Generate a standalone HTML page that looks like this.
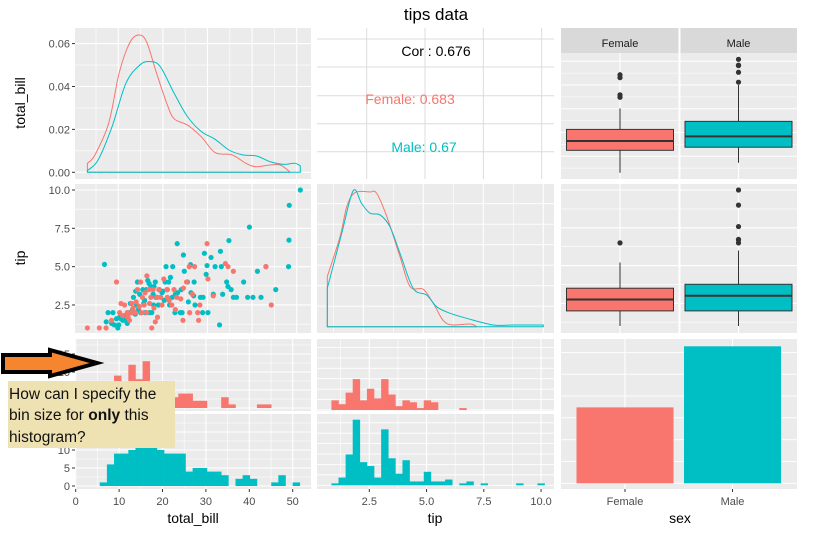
<!DOCTYPE html>
<html><head><meta charset="utf-8"><style>
html,body{margin:0;padding:0;background:#fff;}
svg{display:block;font-family:"Liberation Sans",sans-serif;}
</style></head><body>
<svg id="chart" width="826" height="534" viewBox="0 0 826 534" xmlns="http://www.w3.org/2000/svg">
<text x="436" y="20" text-anchor="middle" font-size="17" fill="#000">tips data</text>
</svg>
<script>
// ---------- data ----------
const sexes = ['Female','Male'];
const sexCounts = [87,157];
const tbEdge0 = 2.25, tbBin = 1.646;
const tbHistFemale = [1,0,1,3,9,6,12,8,13,7,5,4,3,4,4,2,2,0,0,3,1,0,0,0,1,1,0,0,0,0];
const tbHistMale = [0,0,1,6,9,9,10,11,11,11,10,9,9,9,4,5,5,4,4,3,0,2,3,2,0,0,1,3,0,1];
const tipEdge0 = 0.845, tipBin = 0.3103;
const tipHistFemale = [5,3,9,16,5,11,6,16,8,2,5,4,1,5,4,0,0,0,1,0,0,0,0,0,0,0,0,0,0,0];
const tipHistMale = [1,4,16,34,12,10,4,29,14,6,13,2,2,7,2,2,3,0,1,2,0,1,0,0,0,0,1,0,0,1];
const tbDensFemaleX = [3.07,4.77,7.85,10.16,12.47,14.4,16.3,18.6,20.9,22.5,25.5,28.6,31.7,35.5,38.6,40.9,44,46.3,48.4];
const tbDensFemaleY = [0.0042,0.0081,0.0229,0.046,0.060,0.064,0.061,0.046,0.032,0.025,0.022,0.0166,0.0092,0.0081,0.0042,0.0026,0.0034,0.0034,0.0003];
const tbDensMaleX = [3.07,5.5,8.6,11.7,14.8,17.1,19.4,22.5,25.5,28.6,31.7,34.8,37.9,41,44,47.1,49.5,50.81];
const tbDensMaleY = [0.0008,0.0058,0.0213,0.0415,0.050,0.0516,0.0493,0.0369,0.026,0.019,0.0154,0.0104,0.0081,0.0076,0.005,0.0037,0.0042,0.003];
const tipDensFemaleX = [1.0,1.53,1.81,2.15,2.78,3.06,3.48,4.03,4.45,5.0,5.42,5.97,6.95,7.23];
const tipDensFemaleY = [0.149,0.267,0.356,0.398,0.40,0.396,0.327,0.208,0.119,0.111,0.069,0.0099,0.0079,0.0];
const tipDensMaleX = [1.0,1.6,2.08,2.43,2.78,3.2,3.61,4.03,4.58,5.14,5.56,6.11,6.8,7.92,8.75,10.0];
const tipDensMaleY = [0.114,0.277,0.404,0.366,0.337,0.332,0.297,0.218,0.114,0.094,0.059,0.040,0.025,0.005,0.005,0.005];
const scatterMaleBill = [6.9,50.81,48.33,48.27,48.17,39.4,34.8,32.9,30.8,29.3,23.2,24.6,20.7,22.2,26.2,31.7,33.1,29.9,25.5,21.7,18.3,16.9,15.5,17.8,19.5,22.8,24.1,26.9,28.4,29.0,28.9,30.1,31.3,33.4,34.6,35.3,38.1,39.0,40.2,41.2,43.1,45.3,42.0,32.7,27.2,26.3,25.7,24.3,23.9,22.1,21.0,20.3,19.8,18.4,17.5,16.3,15.0,14.1,13.4,12.5,11.6,10.3,9.6,8.8,8.5,7.3,7.7,9.1,10.1,11.0,12.0,13.0,14.5,15.7,16.0,17.3,18.7,19.2,20.5,21.5,22.7,14.8,13.8,12.7,11.2,10.6,9.9,16.6,17.9,20.0,23.3,24.8,27.0,29.7,34.3,35.8,36.5,18.0,15.9,19.0,12.3,13.9,17.0,21.3,14.3,13.2];
const scatterMaleTip = [5.15,10,9,6.73,5,7.58,6.7,6.0,5.6,5.87,6.5,5.76,5,5,5.13,5,5,5.07,4.0,4.3,4.0,3.9,3.5,3.2,3.0,3.2,3.5,3.1,3.0,3.0,2.0,2.0,3.2,3.2,3.7,3.5,4.0,3.0,3.0,4.7,5.0,3.5,3.0,1.2,2.5,3.3,2.7,2.0,2.0,3.0,3.5,2.8,3.3,3.0,2.0,3.5,2.0,2.5,3.0,2.0,1.5,1.7,1.6,2.0,1.3,1.4,2.0,1.2,1.2,1.5,1.3,2.0,2.2,2.6,2.0,3.7,3.0,3.5,4.0,2.5,2.0,3.2,1.9,2.6,1.8,1.6,1.0,4.1,2.5,3.4,3.3,4.7,4.0,4.5,4.0,3.0,3.0,3.7,2.8,2.5,1.5,3.4,2.0,4.0,4.0,2.2];
const scatterFemaleBill = [3.07,5.75,7.25,8.5,9.6,10.3,10.6,11.4,12.0,12.5,12.9,13.3,13.8,14.3,14.7,15.0,15.4,15.8,16.3,16.4,16.9,17.3,17.5,17.8,18.3,18.6,18.8,19.1,19.5,19.8,20.2,20.9,21.4,22.0,22.8,23.1,24.0,24.6,25.3,25.9,26.6,27.1,27.8,28.0,28.3,29.9,30.1,31.3,34.0,34.6,35.8,43.1,44.3,11.0,13.0,15.2,16.0,18.0,21.0,22.5,24.5,26.0,14.0,12.2,17.0];
const scatterFemaleTip = [1.0,1.0,1.0,1.5,4.0,2.0,2.6,2.5,2.0,1.5,2.0,2.3,2.0,3.5,2.4,4.0,3.0,2.5,2.0,4.4,3.5,3.0,1.0,3.5,1.4,3.0,1.7,3.5,3.0,2.5,4.2,3.5,2.8,2.5,2.2,3.0,2.9,3.6,4.0,5.0,3.2,5.0,2.0,1.5,2.5,6.5,4.2,3.1,5.2,5.0,4.7,5.0,2.5,1.8,2.6,2.0,3.3,2.3,3.0,3.5,1.5,2.0,2.7,1.7,2.6];
const boxBillMin = [3.07,7.25], boxBillQ1 = [12.5,13.8], boxBillMed = [16.4,18.35], boxBillQ3 = [21.3,24.7], boxBillMax = [30.14,40.0];
const boxBillOutF = [43.11,44.30,34.83,35.83], boxBillOutM = [50.81,48.33,48.27,48.17,45.35,41.19];
const boxTipMin = [1.0,1.0], boxTipQ1 = [2.0,2.0], boxTipMed = [2.75,3.0], boxTipQ3 = [3.5,3.76], boxTipMax = [5.2,6.0];
const boxTipOutF = [6.5], boxTipOutM = [10,9,7.58,6.73,6.7,6.5];
const corLabels = ['Cor : 0.676','Female: 0.683','Male: 0.67'];
const tbTicks = [0,10,20,30,40,50];
const tipTicks = [2.5,5.0,7.5,10.0];
const densTicks = [0,0.02,0.04,0.06];
const countTicks = [0,5,10,15];

// ---------- scales ----------
const xTB1 = v => 118.3 + (v-10)*4.46;
const xTB3 = v => 75.7 + v*4.34;
const yDen = v => 172.3 - v*2145;
const yTip2 = v => 190 + (10-v)*15.33;
const xTipC = v => 366.7 + (v-2.5)*23.33;
const xTip2 = v => 363.3 + (v-2.5)*24;
const xTip3 = v => 369.3 + (v-2.5)*22.9;
const yTipDen = v => 326.7 - v*336.7;
const yCntTop = v => 408 - v*3.6;
const yCntBot = v => 486 - v*3.6;
const yTipCntTop = v => 410 - v*1.93;
const yTipCntBot = v => 485.3 - v*1.93;
const yBox1 = v => 172.7 - (v-3.07)*2.375;
const yBox2 = v => 190 + (10-v)*15.11;
const ySex = v => 483.3 - v*0.8726;

const NS='http://www.w3.org/2000/svg';
const svg=document.getElementById('chart');
const FEM='#F8766D', MAL='#00BFC4';
function mk(tag, attrs, parent){const e=document.createElementNS(NS,tag);for(const k in attrs)e.setAttribute(k,attrs[k]);(parent||svg).appendChild(e);return e;}
function panel(name,x0,y0,x1,y1,bg){
  const r=mk('rect',{x:x0,y:y0,width:x1-x0,height:y1-y0,fill:bg||'#EBEBEB'});
  
  
  return r;
}
function vlines(xs,vals,y0,y1,x0,x1,w,col){vals.forEach(v=>{const x=xs(v);if(x<x0-0.5||x>x1+0.5)return;const l=mk('line',{x1:x,x2:x,y1:y0,y2:y1,stroke:col||'#fff','stroke-width':w});});}
function hlines(ys,vals,x0,x1,y0,y1,w,col){vals.forEach(v=>{const y=ys(v);if(y<y0-0.5||y>y1+0.5)return;const l=mk('line',{x1:x0,x2:x1,y1:y,y2:y,stroke:col||'#fff','stroke-width':w});});}
function range(a,b,s){const r=[];for(let v=a;v<=b+1e-9;v+=s)r.push(+v.toFixed(4));return r;}
function txt(s,x,y,attrs,name){const t=mk('text',Object.assign({x:x,y:y},attrs));t.textContent=s;return t;}

// ---------- panel geometry ----------
const C1=[75,311], C2=[317,554], C3=[561,797];
const R1=[28,179], R2=[184,333], R3=[339,489];

// row1 col1: density total_bill
panel('density-total-bill-panel',C1[0],R1[0],C1[1],R1[1]);
vlines(xTB1,range(5,50,10),R1[0],R1[1],C1[0],C1[1],0.6);
vlines(xTB1,range(10,50,10),R1[0],R1[1],C1[0],C1[1],1.1);
hlines(yDen,range(0.01,0.07,0.02),C1[0],C1[1],R1[0],R1[1],0.6);
hlines(yDen,densTicks,C1[0],C1[1],R1[0],R1[1],1.1);
function densPath(xsArr,ysArr,xs,ys,col,name){
  const P=xsArr.map((v,i)=>[xs(v),ys(ysArr[i])]);
  let d='M'+xs(xsArr[0]).toFixed(1)+','+ys(0).toFixed(1)+' L'+P[0][0].toFixed(1)+','+P[0][1].toFixed(1);
  for(let i=0;i<P.length-1;i++){
    const p0=P[Math.max(0,i-1)],p1=P[i],p2=P[i+1],p3=P[Math.min(P.length-1,i+2)];
    const c1x=p1[0]+(p2[0]-p0[0])/6,c1y=p1[1]+(p2[1]-p0[1])/6;
    const c2x=p2[0]-(p3[0]-p1[0])/6,c2y=p2[1]-(p3[1]-p1[1])/6;
    d+=' C'+c1x.toFixed(1)+','+c1y.toFixed(1)+' '+c2x.toFixed(1)+','+c2y.toFixed(1)+' '+p2[0].toFixed(1)+','+p2[1].toFixed(1);
  }
  d+=' L'+xs(xsArr[xsArr.length-1]).toFixed(1)+','+ys(0).toFixed(1)+' Z';
  const p=mk('path',{d:d,fill:'none',stroke:col,'stroke-width':1});
  
  
}
densPath(tbDensFemaleX,tbDensFemaleY,xTB1,yDen,FEM,'density-bill-female');
densPath(tbDensMaleX,tbDensMaleY,xTB1,yDen,MAL,'density-bill-male');

// row1 col2: correlation
panel('correlation-panel',C2[0],R1[0],C2[1],R1[1],'#fff');
vlines(xTipC,tipTicks,R1[0],R1[1],C2[0],C2[1],1,'#DCDCDC');
[39,67,95.7,123.7,151.7].forEach(y=>{const l=mk('line',{x1:C2[0],x2:C2[1],y1:y,y2:y,stroke:'#DCDCDC','stroke-width':1});});
txt(corLabels[0],436,56,{'text-anchor':'middle','font-size':14,fill:'#000'},'cor-overall');
txt(corLabels[1],410,104,{'text-anchor':'middle','font-size':14,fill:FEM},'cor-female');
txt(corLabels[2],424,152,{'text-anchor':'middle','font-size':14,fill:MAL},'cor-male');

// col3 boxplots
const facX=[[561,678.5],[680.5,797]];
const boxCx=[620,738.5];
function boxRow(row,ys,mn,q1,md,q3,mx,outs,gridMinor,gridMajor,pname){
  facX.forEach((f,i)=>{
    panel(pname+'-'+sexes[i].toLowerCase(),f[0],row[0],f[1],row[1]);
    hlines(ys,gridMinor,f[0],f[1],row[0],row[1],0.6);
    hlines(ys,gridMajor,f[0],f[1],row[0],row[1],1.1);
    const gl=mk('line',{x1:boxCx[i],x2:boxCx[i],y1:row[0],y2:row[1],stroke:'#fff','stroke-width':1.1});
    
    
    const w=mk('line',{x1:boxCx[i],x2:boxCx[i],y1:ys(mx[i]),y2:ys(mn[i]),stroke:'#333','stroke-width':1});
    
    
    const b=mk('rect',{x:boxCx[i]-53.5,y:ys(q3[i]),width:107,height:ys(q1[i])-ys(q3[i]),fill:i?MAL:FEM,stroke:'#333','stroke-width':1});
    
    
    const m=mk('line',{x1:boxCx[i]-53.5,x2:boxCx[i]+53.5,y1:ys(md[i]),y2:ys(md[i]),stroke:'#333','stroke-width':2});
    
    
    outs[i].forEach(v=>{const c=mk('circle',{cx:boxCx[i],cy:ys(v),r:2.6,fill:'#333'});
      
      });
  });
}
boxRow(R1.map((v,i)=>i?v:53),yBox1,boxBillMin,boxBillQ1,boxBillMed,boxBillQ3,boxBillMax,[boxBillOutF,boxBillOutM],range(5,50,10),range(10,50,10),'box-bill-panel');
boxRow(R2,yBox2,boxTipMin,boxTipQ1,boxTipMed,boxTipQ3,boxTipMax,[boxTipOutF,boxTipOutM],range(1.25,10,2.5),range(2.5,10,2.5),'box-tip-panel');
facX.forEach((f,i)=>{
  const s=mk('rect',{x:f[0],y:28,width:f[1]-f[0],height:25,fill:'#D9D9D9'});
  
  
  txt(sexes[i],boxCx[i],47,{'text-anchor':'middle','font-size':11,fill:'#1A1A1A'},'strip-label');
});

// row2 col1 scatter
panel('scatter-panel',C1[0],R2[0],C1[1],R2[1]);
vlines(xTB1,range(5,50,10),R2[0],R2[1],C1[0],C1[1],0.6);
vlines(xTB1,range(10,50,10),R2[0],R2[1],C1[0],C1[1],1.1);
hlines(yTip2,range(1.25,10,2.5),C1[0],C1[1],R2[0],R2[1],0.6);
hlines(yTip2,tipTicks,C1[0],C1[1],R2[0],R2[1],1.1);
scatterMaleBill.forEach((v,i)=>{const c=mk('circle',{cx:xTB1(v),cy:yTip2(scatterMaleTip[i]),r:2.6,fill:MAL});
  
  });
scatterFemaleBill.forEach((v,i)=>{const c=mk('circle',{cx:xTB1(v),cy:yTip2(scatterFemaleTip[i]),r:2.6,fill:FEM});
  
  });

// row2 col2 tip density
panel('density-tip-panel',C2[0],R2[0],C2[1],R2[1]);
vlines(xTip2,range(1.25,10,2.5),R2[0],R2[1],C2[0],C2[1],0.6);
vlines(xTip2,tipTicks,R2[0],R2[1],C2[0],C2[1],1.1);
hlines(yTipDen,range(0.0609,0.4,0.0609),C2[0],C2[1],R2[0],R2[1],0.9);
densPath(tipDensFemaleX,tipDensFemaleY,xTip2,yTipDen,FEM,'density-tip-female');
densPath(tipDensMaleX,tipDensMaleY,xTip2,yTipDen,MAL,'density-tip-male');

// row3 histograms
function hist(counts,edge0,bw,xs,ys,col,name){
  counts.forEach((c,k)=>{if(!c)return;const x0=xs(edge0+k*bw),x1=xs(edge0+(k+1)*bw);
    const r=mk('rect',{x:x0,y:ys(c),width:x1-x0+0.3,height:ys(0)-ys(c),fill:col});
    
    });
}
const facY=[[339,411],[414,489]];
facY.forEach((fy,i)=>{
  panel('hist-bill-'+sexes[i].toLowerCase()+'-panel',C1[0],fy[0],C1[1],fy[1]);
  vlines(xTB3,range(5,50,10),fy[0],fy[1],C1[0],C1[1],0.6);
  vlines(xTB3,tbTicks,fy[0],fy[1],C1[0],C1[1],1.1);
  const ys=i?yCntBot:yCntTop;
  hlines(ys,range(2.5,17.5,5),C1[0],C1[1],fy[0],fy[1],0.6);
  hlines(ys,countTicks,C1[0],C1[1],fy[0],fy[1],1.1);
  panel('hist-tip-'+sexes[i].toLowerCase()+'-panel',C2[0],fy[0],C2[1],fy[1]);
  vlines(xTip3,range(1.25,10,2.5),fy[0],fy[1],C2[0],C2[1],0.6);
  vlines(xTip3,tipTicks,fy[0],fy[1],C2[0],C2[1],1.1);
  const yt=i?yTipCntBot:yTipCntTop;
  hlines(yt,range(0,36,5.4),C2[0],C2[1],fy[0],fy[1],0.9);
});
hist(tbHistFemale,tbEdge0,tbBin,xTB3,yCntTop,FEM,'hist-bill-female-bar');
hist(tbHistMale,tbEdge0,tbBin,xTB3,yCntBot,MAL,'hist-bill-male-bar');
hist(tipHistFemale,tipEdge0,tipBin,xTip3,yTipCntTop,FEM,'hist-tip-female-bar');
hist(tipHistMale,tipEdge0,tipBin,xTip3,yTipCntBot,MAL,'hist-tip-male-bar');

// row3 col3 bar
panel('sex-bar-panel',C3[0],R3[0],C3[1],R3[1]);
const barCx=[625,732.5];
hlines(ySex,range(0,175,25),C3[0],C3[1],R3[0],R3[1],0.9);
vlines(v=>v,barCx,R3[0],R3[1],C3[0],C3[1],1.1);
sexCounts.forEach((c,i)=>{const r=mk('rect',{x:barCx[i]-48.5,y:ySex(c),width:97,height:ySex(0)-ySex(c),fill:i?MAL:FEM});
  
  });

// ---------- axes ----------
const TK={'font-size':11,fill:'#4D4D4D'};
function ytick(y,label,name){mk('line',{x1:72,x2:75,y1:y,y2:y,stroke:'#333','stroke-width':1});txt(label,70,y+4,Object.assign({'text-anchor':'end'},TK),name);}
densTicks.forEach(v=>ytick(yDen(v),v.toFixed(2),'y-tick-density'));
tipTicks.forEach(v=>ytick(yTip2(v),v.toFixed(1),'y-tick-tip'));
countTicks.forEach(v=>ytick(yCntTop(v),String(v),'y-tick-count-female'));
countTicks.slice(0,3).forEach(v=>ytick(yCntBot(v),String(v),'y-tick-count-male'));
function xtick(x,label,name){mk('line',{x1:x,x2:x,y1:489,y2:492,stroke:'#333','stroke-width':1});txt(label,x,505,Object.assign({'text-anchor':'middle'},TK),name);}
tbTicks.forEach(v=>xtick(xTB3(v),String(v),'x-tick-total-bill'));
tipTicks.forEach(v=>xtick(xTip3(v),v.toFixed(1),'x-tick-tip'));
sexes.forEach((s,i)=>xtick(barCx[i],s,'x-tick-sex'));
txt('total_bill',193,523,{'text-anchor':'middle','font-size':14,fill:'#000'},'x-axis-title-total-bill');
txt('tip',435,523,{'text-anchor':'middle','font-size':14,fill:'#000'},'x-axis-title-tip');
txt('sex',680,523,{'text-anchor':'middle','font-size':14,fill:'#000'},'x-axis-title-sex');
txt('total_bill',0,0,{'text-anchor':'middle','font-size':14,fill:'#000',transform:'translate(25,103) rotate(-90)'},'y-axis-title-total-bill');
txt('tip',0,0,{'text-anchor':'middle','font-size':14,fill:'#000',transform:'translate(25,258) rotate(-90)'},'y-axis-title-tip');

// ---------- annotation ----------
const arrow=mk('path',{d:'M3,355 L50,355 L50,350 L97,363 L50,376 L50,372 L3,372 Z',fill:'#F6852F',stroke:'#000','stroke-width':4,'stroke-linejoin':'miter'});


const box=mk('rect',{x:8,y:381,width:167,height:67,fill:'#EFE2B2'});


const AT={'font-size':15.5,fill:'#111'};
txt('How can I specify the',9,399,AT,'annotation-line-1');
const l2=txt('bin size for ',9,420,AT,'annotation-line-2');
const b2=mk('tspan',{'font-weight':'bold'},l2);b2.textContent='only';
const b3=mk('tspan',{},l2);b3.textContent=' this';
txt('histogram?',9,442,AT,'annotation-line-3');
</script>
</body></html>
